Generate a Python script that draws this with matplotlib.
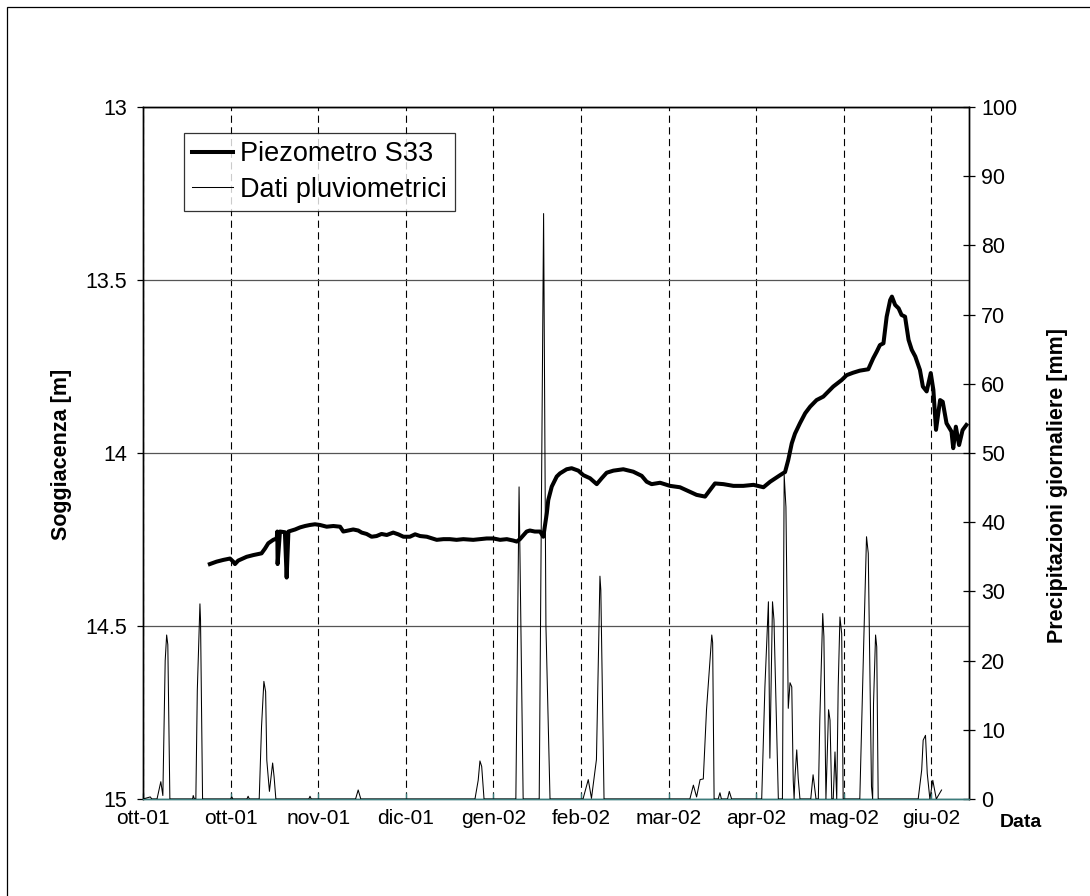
import matplotlib
matplotlib.use("Agg")
import matplotlib.pyplot as plt
from matplotlib.ticker import FixedLocator, FuncFormatter
from matplotlib.lines import Line2D
from matplotlib.patches import Rectangle
import matplotlib.dates as mdates
from datetime import datetime, timedelta

plt.rcParams['font.family'] = ['Liberation Sans', 'DejaVu Sans']

# ---- data -----------------------------------------------------------------
start_date = datetime(2001, 10, 1)
tick_step_days = 30
n_ticks = 10
axis_span_days = 282.9

# Piezometer S33: depth to water table [m], by day offset from start_date
piezo_day = [22.9, 25.2, 27.5, 29.8, 30.9, 31.5, 32.6, 35.5, 37.8, 39.5, 40.6,
             41.8, 42.9, 44.6, 45.8, 46.0, 46.1, 46.9, 48.6, 49.2, 49.8, 52.1,
             53.8, 55.5, 57.2, 58.9, 60.6, 62.9, 65.2, 67.5, 68.6, 70.3, 72.0,
             73.7, 74.9, 76.6, 78.3, 80.0, 81.7, 83.5, 85.7, 87.4, 89.2, 91.4,
             93.2, 94.9, 97.2, 100.6, 102.9, 105.1, 107.4, 109.7, 113.1, 115.4,
             117.7, 120.0, 122.3, 124.6, 126.8, 128.0, 129.1, 131.4, 132.5,
             134.2, 136.0, 137.1, 138.3, 138.8, 140.0, 141.7, 142.8, 145.1,
             146.8, 149.1, 150.8, 153.1, 155.4, 157.1, 158.8, 161.1, 164.5,
             167.9, 170.8, 172.5, 174.2, 177.1, 180.5, 183.9, 187.3, 189.6,
             192.5, 194.2, 195.9, 198.8, 202.2, 205.6, 209.1, 212.5, 214.8,
             218.2, 219.9, 221.0, 222.2, 223.3, 225.0, 226.8, 228.5, 230.7,
             233.0, 236.4, 239.3, 241.0, 243.2, 245.5, 248.4, 250.1, 251.3,
             252.4, 253.6, 254.7, 255.9, 256.5, 257.6, 258.8, 259.8, 261.0,
             262.2, 263.3, 264.5, 266.1, 267.1, 268.4, 269.8, 270.7, 271.6,
             273.0, 273.9, 275.2, 276.9, 277.5, 278.4, 279.5, 280.7, 282.0]
piezo_depth = [14.321, 14.314, 14.309, 14.305, 14.314, 14.321, 14.311, 14.300,
               14.295, 14.292, 14.290, 14.276, 14.261, 14.251, 14.247, 14.227,
               14.321, 14.227, 14.229, 14.360, 14.227, 14.221, 14.215, 14.211,
               14.208, 14.206, 14.208, 14.213, 14.211, 14.213, 14.227, 14.224,
               14.221, 14.224, 14.230, 14.234, 14.242, 14.240, 14.234, 14.237,
               14.230, 14.235, 14.242, 14.242, 14.235, 14.240, 14.242, 14.251,
               14.249, 14.249, 14.251, 14.249, 14.251, 14.249, 14.247, 14.247,
               14.251, 14.249, 14.253, 14.256, 14.249, 14.227, 14.224, 14.227,
               14.227, 14.242, 14.174, 14.136, 14.097, 14.068, 14.059, 14.047,
               14.044, 14.051, 14.064, 14.073, 14.090, 14.073, 14.057, 14.051,
               14.047, 14.054, 14.066, 14.083, 14.090, 14.086, 14.095, 14.099,
               14.112, 14.121, 14.126, 14.107, 14.088, 14.090, 14.095, 14.095,
               14.092, 14.099, 14.083, 14.064, 14.055, 14.020, 13.972, 13.944,
               13.914, 13.885, 13.866, 13.847, 13.837, 13.808, 13.789, 13.775,
               13.768, 13.762, 13.758, 13.726, 13.707, 13.688, 13.683, 13.606,
               13.558, 13.548, 13.572, 13.582, 13.601, 13.606, 13.673, 13.702,
               13.721, 13.760, 13.808, 13.822, 13.769, 13.818, 13.933, 13.847,
               13.852, 13.914, 13.938, 13.986, 13.924, 13.977, 13.934, 13.919]

# Daily rainfall [mm], by day offset from start_date
rain_day = [0, 2.5, 3.0, 3.5, 4.8, 6.1, 6.8, 7.6, 8.1, 8.5, 9.2,
            17.0, 17.2, 17.6, 18.1, 18.6, 19.5, 19.7, 20.4,
            30.0, 30.4, 30.8, 35.6, 36.0, 36.4,
            39.8, 40.6, 41.4, 42.0, 42.4, 43.3, 44.4, 44.9, 45.5,
            56.8, 57.2, 57.6,
            72.8, 73.7, 74.6,
            113.7, 114.8, 115.4, 116.0, 116.8,
            127.7, 128.8, 130.2,
            135.7, 137.2, 138.0, 139.4,
            150.7, 152.5, 153.6, 155.3, 156.5, 156.8, 157.9,
            187.3, 188.5, 189.6, 190.8, 191.9, 193.0, 193.8, 194.8, 195.1, 195.6,
            197.0, 197.6, 198.1, 200.2, 200.8, 201.6,
            211.9, 213.0, 214.2, 214.7, 215.6, 216.1, 217.6,
            219.0, 219.6, 220.2, 221.0, 221.6, 222.2, 222.7, 223.0, 223.3,
            223.9, 224.4, 225.0,
            228.7, 229.5, 230.5,
            231.3, 231.8, 232.8, 233.2, 233.9,
            234.8, 235.3, 235.9,
            236.4, 237.0, 237.6,
            238.1, 238.7, 239.3, 239.8,
            245.5, 246.9, 247.8, 248.4, 249.5, 249.9, 250.2, 250.9, 251.3, 251.8,
            265.5, 266.7, 267.2, 268.0, 268.6, 269.5, 270.5, 271.7, 273.5]
rain_mm = [0, 0.3, 0, 0, 0, 2.5, 0.5, 20, 23.7, 22.3, 0,
           0, 0.5, 0, 0, 15.7, 28.2, 25.9, 0,
           0, 0.3, 0, 0, 0.4, 0,
           0, 10.5, 17.0, 15.5, 5.6, 1.1, 5.2, 3.2, 0,
           0, 0.4, 0,
           0, 1.3, 0,
           0, 2.7, 5.5, 4.7, 0,
           0, 45.1, 0,
           0, 84.6, 25, 0,
           0, 2.8, 0.1, 5.7, 32.2, 30.2, 0,
           0, 2.0, 0.3, 2.8, 2.9, 12.9, 17.7, 23.7, 22.6, 0,
           0, 0.9, 0, 0, 1.1, 0,
           0, 16.2, 28.5, 5.9, 28.5, 25.9, 0,
           0, 46.8, 42.2, 13.1, 16.8, 16.2, 2.7, 0, 3.2,
           7.1, 3.0, 0,
           0, 3.5, 0,
           0, 11.4, 26.8, 23.5, 0,
           12.9, 11.4, 0,
           0, 6.8, 0,
           16.2, 26.3, 23.9, 0,
           0, 23.5, 37.9, 35.5, 1.8, 0, 13.8, 23.7, 22.0, 0,
           0, 4.2, 8.5, 9.2, 3.7, 0, 2.7, 0, 1.3]

depth_ticks = [13, 13.5, 14, 14.5, 15]
rain_ticks = list(range(0, 101, 10))
month_abbr = {1: 'gen', 2: 'feb', 3: 'mar', 4: 'apr', 5: 'mag', 6: 'giu',
              7: 'lug', 8: 'ago', 9: 'set', 10: 'ott', 11: 'nov', 12: 'dic'}

# ---- helpers --------------------------------------------------------------
def to_dates(days):
    return [start_date + timedelta(days=d) for d in days]

def it_month(x, pos=None):
    d = mdates.num2date(x)
    return f"{month_abbr[d.month]}-{d.strftime('%y')}"

# ---- figure ---------------------------------------------------------------
W, H = 1090, 896
fig = plt.figure(figsize=(W / 100, H / 100), dpi=100)
fig.patches.append(Rectangle((7 / W, -0.01), 1.2, 1 - 7 / H + 0.01,
                             transform=fig.transFigure, fill=False,
                             edgecolor='black', lw=0.9))

L, R, T, B = 143, 969, 107, 799
ax = fig.add_axes([L / W, 1 - B / H, (R - L) / W, (B - T) / H])
ax2 = ax.twinx()

x0 = mdates.date2num(start_date)
ax.set_xlim(x0, x0 + axis_span_days)
tick_pos = [x0 + tick_step_days * k for k in range(n_ticks)]
ax.xaxis.set_major_locator(FixedLocator(tick_pos))
ax.xaxis.set_major_formatter(FuncFormatter(it_month))

ax.set_ylim(15, 13)
ax.set_yticks(depth_ticks)
ax.set_yticklabels([f"{v:g}" for v in depth_ticks])
ax2.set_ylim(0, 100)
ax2.set_yticks(rain_ticks)

# grid
ax.yaxis.grid(True, color='#555555', lw=0.9)
ax.xaxis.grid(True, color='black', lw=0.8, linestyle=(0, (6.5, 4.0)))
ax.set_axisbelow(True)

# series
p_line, = ax.plot(to_dates(piezo_day), piezo_depth, color='black', lw=2.9,
                  solid_joinstyle='round', zorder=3)
r_line, = ax2.plot(to_dates(rain_day), rain_mm, color='black', lw=0.75,
                   zorder=3)

# spines and ticks
teal = '#3c7d7d'
for sp in ['left', 'right', 'top']:
    ax.spines[sp].set_color('black')
    ax2.spines[sp].set_color('black')
ax.spines['bottom'].set_color(teal)
ax2.spines['bottom'].set_color(teal)
for sp in ax.spines.values():
    sp.set_linewidth(1.0)
for sp in ax2.spines.values():
    sp.set_linewidth(1.0)

ax.tick_params(axis='x', direction='in', length=4, width=1, color=teal,
               labelsize=15, pad=7)
ax.tick_params(axis='y', direction='out', length=4.5, width=0.9,
               labelsize=15.5, pad=7)
ax2.tick_params(axis='y', direction='inout', length=8.5, width=0.9,
                labelsize=15.5, pad=4.5)

# axis titles
fig.text(62 / W, 1 - 454 / H, 'Soggiacenza [m]', rotation=90, ha='center',
         va='center', fontsize=15.5, fontweight='bold')
fig.text(1057 / W, 1 - 485 / H, 'Precipitazioni giornaliere [mm]',
         rotation=90, ha='center', va='center', fontsize=15.5,
         fontweight='bold')
fig.text(1021 / W, 1 - 822 / H, 'Data', ha='center', va='center',
         fontsize=14, fontweight='bold')

# legend
handles = [Line2D([], [], color='black', lw=2.9),
           Line2D([], [], color='black', lw=0.75)]
leg = ax2.legend(handles, ['Piezometro S33', 'Dati pluviometrici'],
                 loc='upper left', bbox_to_anchor=(184 / W, 1 - 133 / H),
                 bbox_transform=fig.transFigure, borderaxespad=0,
                 fontsize=19.5, frameon=True, fancybox=False,
                 handlelength=1.5, handletextpad=0.25, borderpad=0.3,
                 labelspacing=0.35)
leg.get_frame().set_edgecolor('black')
leg.get_frame().set_linewidth(0.9)

fig.savefig('out.png', dpi=100)
